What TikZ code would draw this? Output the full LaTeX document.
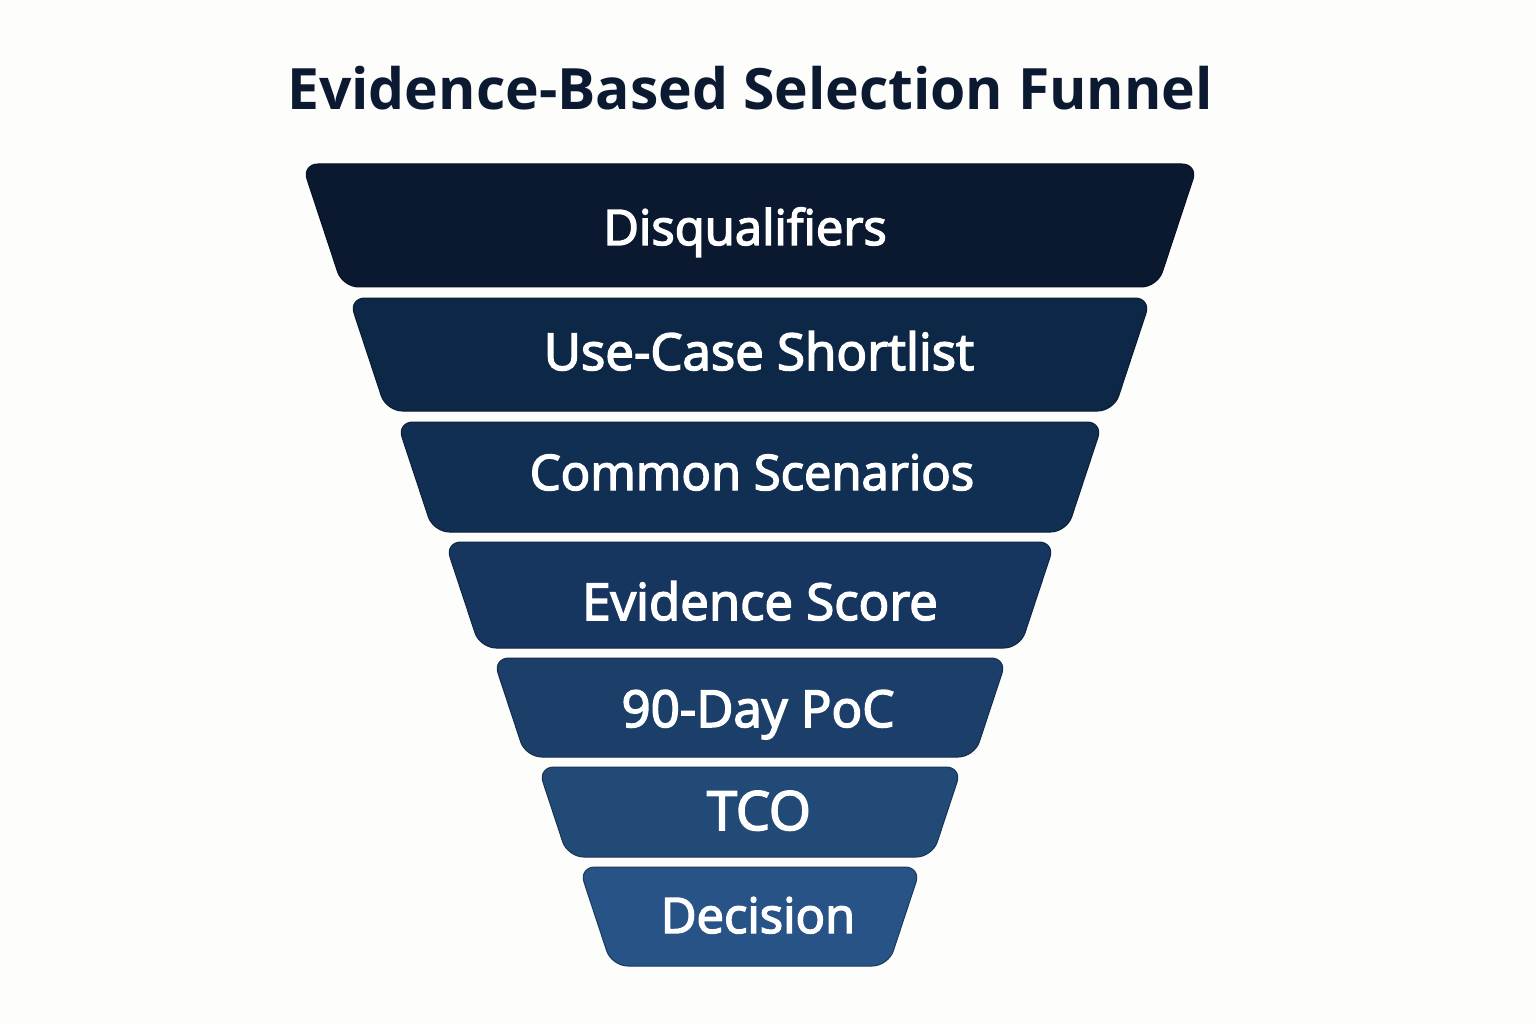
\documentclass[tikz,border=0pt]{standalone}
\usepackage{fontspec}
\setmainfont{Open Sans}
\newfontfamily\medfont{Open Sans}[FakeBold=3]
\usepackage{tikz}
\usetikzlibrary{calc}
\usepackage{xcolor}
\definecolor{navy}{HTML}{0B1A31}
\definecolor{paper}{HTML}{FDFDFC}
\definecolor{fA}{HTML}{0A1930}
\definecolor{fB}{HTML}{0D2746}
\definecolor{fC}{HTML}{112E53}
\definecolor{fD}{HTML}{17365F}
\definecolor{fE}{HTML}{1C3F6A}
\definecolor{fF}{HTML}{224A77}
\definecolor{fG}{HTML}{275386}

\begin{document}
\begin{tikzpicture}[x=1pt,y=-1pt]
  \fill[paper] (0,0) rectangle (1536,1024);
  \useasboundingbox (0,0) rectangle (1536,1024);
  \node[anchor=base,text=navy,font=\fontsize{57}{64}\selectfont\bfseries] (title) at (750,110) {Evidence-Based Selection Funnel};
  \tikzstyle{every node}=[anchor=base,text=white,inner sep=0pt];
  % layers: top, bottom, half width, colour, text x, baseline, size, label
  \foreach \n/\yt/\yb/\w/\c/\tx/\ty/\s/\t in {
      A/164/287/448/fA/745/245/49/Disqualifiers,
      B/298/411/401/fB/759/370/51/Use-Case Shortlist,
      C/422/532/353/fC/752/490/49/Common Scenarios,
      D/542/648/305/fD/760/620/51/Evidence Score,
      E/658/757/257/fE/758/727/51/90-Day PoC,
      F/767/857/212/fF/759/830/54/TCO,
      G/867/966/171/fG/758/933/49/Decision}{
    \pgfmathsetmacro{\d}{0.33*(\yb-\yt)}
    \filldraw[fill=\c, draw=\c!70!black, line width=1, rounded corners=16] (750-\w,\yt) -- (750+\w,\yt) -- (750+\w-\d,\yb) -- (750-\w+\d,\yb) -- cycle;
    \node[font=\fontsize{\s}{\s}\selectfont\medfont] (l\n) at (\tx,\ty) {\t};
  }
\end{tikzpicture}
\end{document}
